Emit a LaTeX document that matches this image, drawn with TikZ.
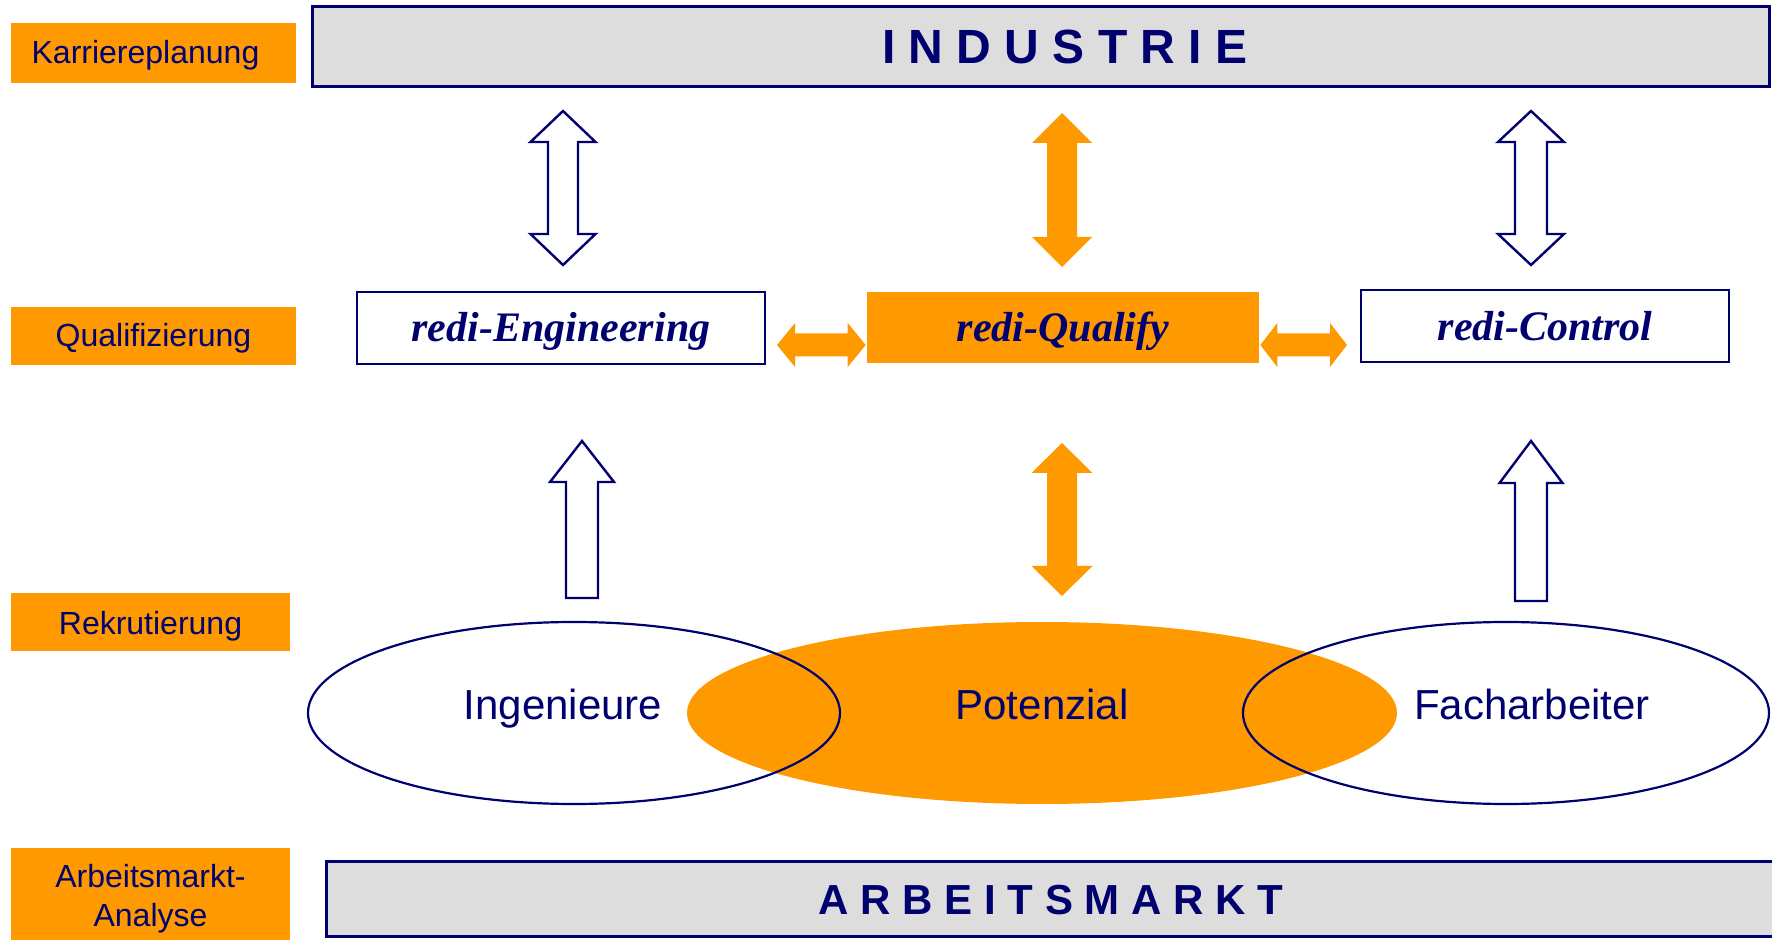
\documentclass[tikz,border=0pt]{standalone}
\usepackage{fontspec}
\setmainfont{Liberation Sans}
\newfontfamily\rediserif{Liberation Serif}
\usetikzlibrary{calc,shapes.geometric}
\definecolor{navy}{RGB}{0,0,110}
\definecolor{orng}{RGB}{255,153,0}
\definecolor{lgray}{RGB}{221,221,221}
% vertical double block arrow: style, top tip, bottom tip, half shaft, half head, head length
\newcommand{\myVDA}[6]{%
 \path[#1] (#2) -- ($(#2)+(#5,#6)$) -- ($(#2)+(#4,#6)$) -- ($(#3)+(#4,-#6)$) -- ($(#3)+(#5,-#6)$) -- (#3)
 -- ($(#3)+(-#5,-#6)$) -- ($(#3)+(-#4,-#6)$) -- ($(#2)+(-#4,#6)$) -- ($(#2)+(-#5,#6)$) -- cycle;}
% upward block arrow: style, tip, tail, half shaft, half head, head length
\newcommand{\myUA}[6]{%
 \path[#1] (#2) -- ($(#2)+(#5,#6)$) -- ($(#2)+(#4,#6)$) -- ($(#3)+(#4,0)$) -- ($(#3)+(-#4,0)$)
 -- ($(#2)+(-#4,#6)$) -- ($(#2)+(-#5,#6)$) -- cycle;}
% horizontal double block arrow: style, left tip, right tip, half shaft, half head, head length
\newcommand{\myHDA}[6]{%
 \path[#1] (#2) -- ($(#2)+(#6,-#5)$) -- ($(#2)+(#6,-#4)$) -- ($(#3)+(-#6,-#4)$) -- ($(#3)+(-#6,-#5)$) -- (#3)
 -- ($(#3)+(-#6,#5)$) -- ($(#3)+(-#6,#4)$) -- ($(#2)+(#6,#4)$) -- ($(#2)+(#6,#5)$) -- cycle;}
\tikzset{
 lbl/.style={fill=orng, text=navy, font=\fontsize{16}{19.5}\selectfont, inner sep=0pt, text height=14pt, text depth=3pt},
 bar/.style={fill=lgray, draw=navy, line width=1.5pt, text=navy, font=\fontsize{24}{28}\selectfont\bfseries, inner sep=0pt},
 redibox/.style={draw=navy, line width=1.3pt, fill=white, text=navy, font=\fontsize{21}{25}\selectfont\rediserif\bfseries\itshape, inner sep=0pt, text height=18pt, text depth=4pt},
 hollow/.style={draw=navy, fill=white, line width=1.2pt, line join=miter},
 solidarrow/.style={fill=orng},
 oval/.style={ellipse, draw=navy, line width=1.1pt, inner sep=0pt},
 ovtxt/.style={text=navy, font=\fontsize{21}{25}\selectfont, anchor=base, inner sep=0pt},
}
\begin{document}
\begin{tikzpicture}[x=0.5pt,y=-0.5pt]
\useasboundingbox (0,0) rectangle (1772,940);
% left labels
\node[lbl, minimum width=142.5pt, minimum height=30pt] (kar) at (153.5,53) {Karriereplanung\hspace*{8pt}};
\node[lbl, minimum width=142.5pt, minimum height=29pt] (qual) at (153.5,336) {Qualifizierung};
\node[lbl, minimum width=139.5pt, minimum height=29pt, text height=15pt] (rek) at (150.5,622) {Rekrutierung};
\node[lbl, minimum width=139.5pt, minimum height=51pt, text height=, text depth=, align=center] (arb) at (150.5,899) {Arbeitsmarkt-\\Analyse};
% bars
\node[bar, minimum width=728.5pt, minimum height=40pt, text height=17pt, text depth=0pt] (ind) at (1040.5,47) {\hspace*{24.5pt}I N D U S T R I E};
\node[bar, minimum width=725pt, minimum height=37.5pt, font=\fontsize{21}{25}\selectfont\bfseries, text height=15.5pt, text depth=0pt] (am) at (1051,898.5) {A R B E I T S M A R K T};
% redi boxes
\node[redibox, minimum width=204pt, minimum height=36pt] (eng) at (561,328) {redi-Engineering};
\node[redibox, draw=none, fill=orng, minimum width=196pt, minimum height=35.5pt, text height=18.5pt] (qfy) at (1063,327.5) {redi-Qualify};
\node[redibox, minimum width=184pt, minimum height=36pt, text height=19pt] (ctl) at (1545,326) {redi-Control};
% ellipses
\node[ellipse, fill=orng, inner sep=0pt, minimum width=355pt, minimum height=91pt] (pot) at (1042,713) {};
\node[oval, minimum width=266pt, minimum height=91pt] (ing) at (574,713) {};
\node[oval, minimum width=263pt, minimum height=91pt] (fach) at (1506,713) {};
\node[ovtxt] (ingt) at (563,719) {Ingenieure};
\node[ovtxt] (pott) at (1042,719) {Potenzial};
\node[ovtxt] (facht) at (1532,719) {Facharbeiter};
% arrow end points
\coordinate (a1t) at (563,111); \coordinate (a1b) at (563,265);
\coordinate (a2t) at (1062,113); \coordinate (a2b) at (1062,267);
\coordinate (a3t) at (1531,111); \coordinate (a3b) at (1531,265);
\coordinate (h1l) at (777,345); \coordinate (h1r) at (qfy.west |- h1l);
\coordinate (h2l) at (qfy.east |- h1l); \coordinate (h2r) at (1347,345);
\coordinate (b1t) at (582,441); \coordinate (b1b) at (582,598);
\coordinate (b2t) at (1062,443); \coordinate (b2b) at (1062,596);
\coordinate (b3t) at (1531,441); \coordinate (b3b) at (1531,601);
% arrows
\myVDA{hollow}{a1t}{a1b}{15}{32.5}{31}
\myVDA{solidarrow}{a2t}{a2b}{15}{30}{30}
\myVDA{hollow}{a3t}{a3b}{16}{33}{31}
\myHDA{solidarrow}{h1l}{h1r}{11.5}{22}{18}
\myHDA{solidarrow}{h2l}{h2r}{11.5}{22}{17}
\myUA{hollow}{b1t}{b1b}{16}{32}{41}
\myVDA{solidarrow}{b2t}{b2b}{15}{30.5}{30}
\myUA{hollow}{b3t}{b3b}{16}{31.5}{42}
\end{tikzpicture}
\end{document}
